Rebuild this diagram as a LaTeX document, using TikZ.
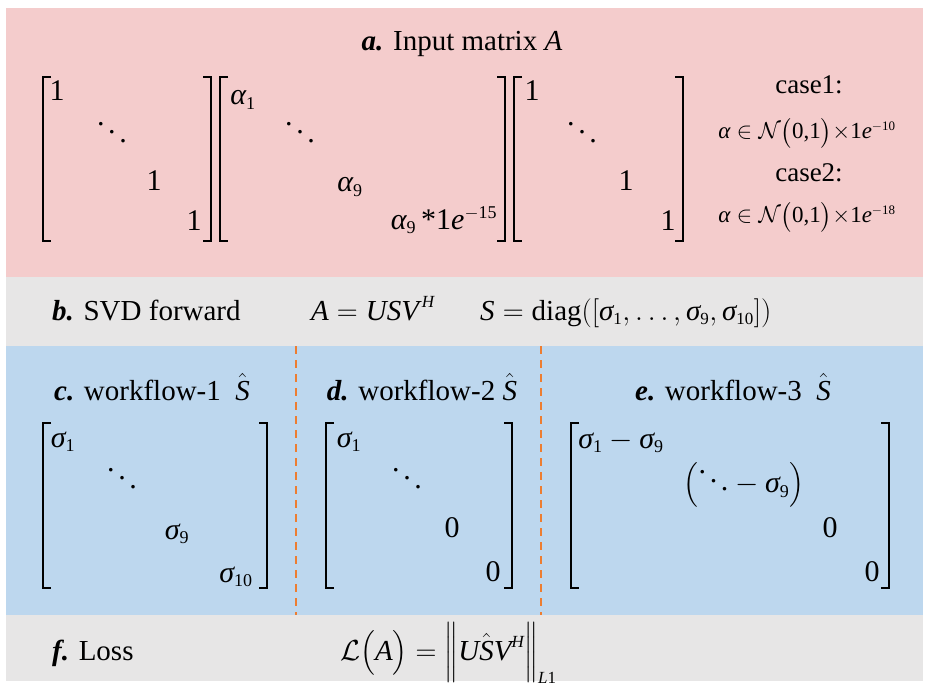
\RequirePackage{fix-cm}
\documentclass[tikz,border=0pt]{standalone}
\usepackage{amsmath}
\usepackage{fontspec}
\setmainfont{Liberation Serif}
\newfontfamily\tms{Liberation Serif}
\DeclareMathSizes{30}{30}{18}{14}
\DeclareMathSizes{29}{29}{17}{13}
\DeclareMathSizes{27}{27}{16}{12}
\DeclareMathSizes{23}{23}{13}{10}
\definecolor{pinkbg}{HTML}{F4CCCC}
\definecolor{graybg}{HTML}{E7E6E6}
\definecolor{bluebg}{HTML}{BDD7EE}
\definecolor{dashor}{HTML}{ED7D31}
\newcommand\vi[1]{\text{\itshape #1}}
\newcommand\dg[1]{\text{\upshape #1}}
\newcommand\lbl[1]{\textbf{\textit{#1}}}
\newcommand\dd{\mbox{\raisebox{0.62em}{.}\kern0.12em\raisebox{0.34em}{.}\kern0.12em\raisebox{0.06em}{.}}}
\begin{document}
\begin{tikzpicture}[x=1pt,y=-1pt,
  ttl/.style={inner sep=0pt, font=\tms\fontsize{29}{34}\selectfont},
  ent/.style={inner sep=0pt, font=\tms\fontsize{30}{34}\selectfont},
  cse/.style={inner sep=0pt, font=\tms\fontsize{27}{32}\selectfont},
  frm/.style={inner sep=0pt, font=\tms\fontsize{23}{28}\selectfont},
  brk/.style={line width=1.1pt, line cap=butt, line join=miter},
  dsh/.style={draw=dashor, line width=1.5pt, dash pattern=on 8pt off 6pt}]
\useasboundingbox (0,0) rectangle (930,690);
\fill[white] (0,0) rectangle (930,690);
\fill[pinkbg] (6,8) rectangle (923,277);
\fill[graybg] (6,277) rectangle (923,346);
\fill[bluebg] (6,346) rectangle (923,615);
\fill[graybg] (6,615) rectangle (923,681);
% separators
\coordinate (s1t) at (296,346); \coordinate (s1b) at (296,615);
\coordinate (s2t) at (541,346); \coordinate (s2b) at (541,615);
\draw[dsh] (s1t) -- (s1b);
\draw[dsh] (s2t) -- (s2b);
% brackets
\newcommand\lbrk[3]{\draw[brk] (#1+8,#2) -- (#1,#2) -- (#1,#3) -- (#1+8,#3);}
\newcommand\rbrk[3]{\draw[brk] (#1-8,#2) -- (#1,#2) -- (#1,#3) -- (#1-8,#3);}
\lbrk{43}{77}{241}\rbrk{211}{77}{241}
\lbrk{220}{77}{241}\rbrk{505}{77}{241}
\lbrk{514}{77}{241}\rbrk{683}{77}{241}
\lbrk{43}{423}{588}\rbrk{267}{423}{588}
\lbrk{326}{423}{588}\rbrk{512}{423}{588}
\lbrk{571}{423}{588}\rbrk{889}{423}{588}
% section a
\node[ttl] (ta) at (462,44) {\lbl{a.} Input matrix \textit{A}};
\node[ent] (m1a) at (57,91) {1};
\node[ent] (m1b) at (112,133) {\dd};
\node[ent] (m1c) at (154,181) {1};
\node[ent] (m1d) at (194,221) {1};
\node[ent] (m2a) at (243,100) {$\vi{α}_{\dg{1}}$};
\node[ent] (m2b) at (300,133) {\dd};
\node[ent] (m2c) at (350,187) {$\vi{α}_{\dg{9}}$};
\node[ent] (m2d) at (444,220) {$\vi{α}_{\dg{9}}\,\dg{*1}\vi{e}^{-\dg{15}}$};
\node[ent] (m3a) at (532,91) {1};
\node[ent] (m3b) at (582,133) {\dd};
\node[ent] (m3c) at (626,181) {1};
\node[ent] (m3d) at (668,221) {1};
\node[cse] (c1) at (809,85) {case1:};
\node[frm] (f1) at (807,133) {$\vi{α}\in\mathcal{N}\bigl(\dg{0,1}\bigr){\times}\dg{1}\vi{e}^{-\dg{10}}$};
\node[cse] (c2) at (809,173) {case2:};
\node[frm] (f2) at (807,217) {$\vi{α}\in\mathcal{N}\bigl(\dg{0,1}\bigr){\times}\dg{1}\vi{e}^{-\dg{18}}$};
% section b
\node[ttl, anchor=base west] (tb) at (52,320) {\lbl{b.} SVD forward};
\node[ttl, anchor=base west] (fb1) at (311,320) {$\vi{A}=\vi{USV}^{\,\vi{H}}$};
\node[ttl, anchor=base west] (fb2) at (480,320) {$\vi{S}=\dg{diag}([\vi{σ}_{\dg{1}},\ldots,\vi{σ}_{\dg{9}},\vi{σ}_{\dg{10}}])$};
% section c d e
\node[ttl, anchor=base] (tc) at (152,400) {\lbl{c.} workflow-1\ \ $\hat{\vi{S}}$};
\node[ttl, anchor=base] (td) at (422,400) {\lbl{d.} workflow-2\ $\hat{\vi{S}}$};
\node[ttl, anchor=base] (te) at (733,400) {\lbl{e.} workflow-3\ \ $\hat{\vi{S}}$};
\node[ent] (ca) at (63,442) {$\vi{σ}_{\dg{1}}$};
\node[ent] (cb) at (122,479) {\dd};
\node[ent] (cc) at (177,534) {$\vi{σ}_{\dg{9}}$};
\node[ent] (cd) at (236,577) {$\vi{σ}_{\dg{10}}$};
\node[ent] (da) at (349,442) {$\vi{σ}_{\dg{1}}$};
\node[ent] (db) at (407,479) {\dd};
\node[ent] (dc) at (452,528) {0};
\node[ent] (dd) at (493,572) {0};
\node[ent] (ea) at (621,442) {$\vi{σ}_{\dg{1}}-\vi{σ}_{\dg{9}}$};
\node[ent] (eb) at (744,485) {$\bigl(\dd-\vi{σ}_{\dg{9}}\bigr)$};
\node[ent] (ec) at (830,528) {0};
\node[ent] (ed) at (872,572) {0};
% section f
\node[ttl, anchor=base west] (tf) at (52,660) {\lbl{f.} Loss};
\node[ttl, anchor=base west] (ff) at (340,660) {$\mathcal{L}\bigl(\vi{A}\bigr)=\Bigl\|\vi{U}\hat{\vi{S}}\vi{V}^{\vi{H}}\Bigr\|_{\vi{L}\dg{1}}$};
\end{tikzpicture}
\end{document}
